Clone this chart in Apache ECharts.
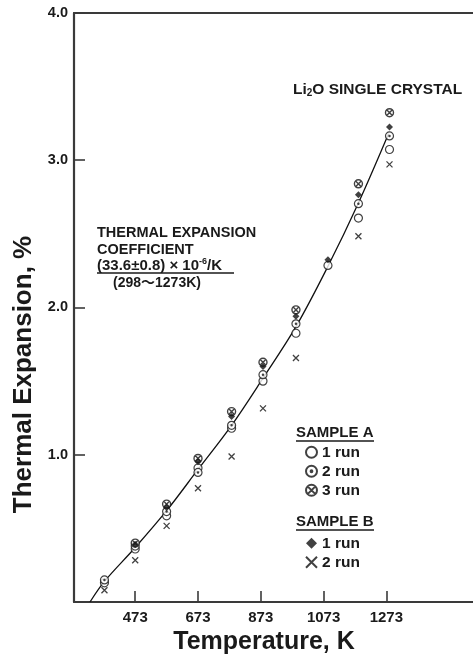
<!DOCTYPE html>
<html>
<head>
<meta charset="utf-8">
<script src="https://cdn.jsdelivr.net/npm/echarts@6/dist/echarts.min.js"></script>
<style>
  html, body { margin: 0; padding: 0; background: #fff; }
  #chart { width: 473px; height: 660px; }
</style>
</head>
<body>
<div id="chart"></div>
<script>
// ---- data ----
const temps = [375, 473, 573, 673, 780, 880, 985, 1087, 1184, 1283];
const sampleA_run1 = [0.13, 0.36, 0.585, 0.91, 1.18, 1.50, 1.825, 2.286, 2.607, 3.073];
const sampleA_run2 = [0.15, 0.38, 0.614, 0.88, 1.20, 1.544, 1.889, null, 2.705, 3.165];
const sampleA_run3 = [null, 0.40, 0.665, 0.975, 1.293, 1.628, 1.984, null, 2.84, 3.323];
const sampleB_run1 = [null, 0.39, 0.642, 0.952, 1.259, 1.599, 1.941, 2.324, 2.765, 3.225];
const sampleB_run2 = [0.08, 0.284, 0.517, 0.773, 0.988, 1.315, 1.657, null, 2.484, 2.972];

const fitTemps  = [329, 375, 473, 573, 673, 780, 880, 985, 1087, 1184, 1280];
const fitValues = [0, 0.14, 0.37, 0.62, 0.90, 1.20, 1.52, 1.87, 2.28, 2.71, 3.18];

const xTickLabels = [473, 673, 873, 1073, 1273];
const yTickLabels = [1, 2, 3, 4];

// ---- build ----
const FONT = "'Liberation Sans', Arial, 'Noto Sans CJK JP', sans-serif";
const INK = '#1a1a1a';
const AXIS = '#3a3a3a';

function pairs(xs, ys) {
  const out = [];
  xs.forEach((x, i) => { if (ys[i] !== null && ys[i] !== undefined) out.push([x, ys[i]]); });
  return out;
}

const SYM_CIRCLE_DOT = 'path://M0,-10A10,10,0,1,1,0,10A10,10,0,1,1,0,-10ZM0,-1.6A1.6,1.6,0,1,1,0,1.6A1.6,1.6,0,1,1,0,-1.6Z';
const SYM_CIRCLE_X = 'path://M0,-10A10,10,0,1,1,0,10A10,10,0,1,1,0,-10ZM-7.07,-7.07L7.07,7.07M7.07,-7.07L-7.07,7.07';
const SYM_CROSS = 'path://M-5,-5L5,5M5,-5L-5,5';

const openStyle = { color: '#fff', borderColor: '#111', borderWidth: 1.2 };

const chart = echarts.init(document.getElementById('chart'), null, { renderer: 'canvas' });

const legendCommon = {
  orient: 'vertical', left: 305, padding: 0,
  itemWidth: 11, itemHeight: 11, itemGap: 3.5,
  formatter: n => n.slice(2),
  textStyle: { fontFamily: FONT, fontSize: 15.5, fontWeight: 'bold', color: INK },
  selectedMode: false
};

const option = {
  backgroundColor: '#fff',
  animation: false,
  textStyle: { fontFamily: FONT },
  grid: { left: 74, right: 0, top: 13, bottom: 58, containLabel: false },
  xAxis: [{
    type: 'value',
    min: 278, max: 1549,
    name: 'Temperature, K',
    nameLocation: 'middle',
    nameGap: 28,
    nameTextStyle: { fontFamily: FONT, fontSize: 25, fontWeight: 'bold', color: INK, padding: [0, 19, 0, 0] },
    axisLine: { show: true, lineStyle: { color: AXIS, width: 2.2 } },
    axisTick: { show: true, inside: true, length: 11, lineStyle: { color: AXIS, width: 1.6 }, customValues: xTickLabels },
    axisLabel: { show: true, customValues: xTickLabels, fontFamily: FONT, fontSize: 15, fontWeight: 'bold', color: INK, margin: 8,
                 formatter: v => String(v) },
    splitLine: { show: false }
  }, {
    type: 'value', position: 'top', min: 278, max: 1549,
    axisLine: { show: true, lineStyle: { color: AXIS, width: 2.2 } },
    axisTick: { show: false }, axisLabel: { show: false }, splitLine: { show: false }
  }],
  yAxis: {
    type: 'value',
    min: 0, max: 4,
    name: 'Thermal Expansion, %',
    nameLocation: 'middle',
    nameGap: 32,
    nameTextStyle: { fontFamily: FONT, fontSize: 26, fontWeight: 'bold', color: INK, padding: [0, 134, 0, 0] },
    axisLine: { show: true, lineStyle: { color: AXIS, width: 2.2 } },
    axisTick: { show: true, inside: true, length: 11, lineStyle: { color: AXIS, width: 1.6 }, customValues: yTickLabels },
    axisLabel: { show: true, customValues: yTickLabels, fontFamily: FONT, fontSize: 14.5, fontWeight: 'bold', color: INK, margin: 6,
                 formatter: v => v.toFixed(1) },
    splitLine: { show: false }
  },
  legend: [
    Object.assign({}, legendCommon, { data: ['A 1 run', 'A 2 run', 'A 3 run'], top: 444.5 }),
    Object.assign({}, legendCommon, { data: ['B 1 run', 'B 2 run'], top: 535.5 })
  ],
  graphic: [
    { type: 'text', x: 293, y: 90, style: {
        text: '{a|Li}{s|2}{a|O SINGLE CRYSTAL}', verticalAlign: 'middle', fill: INK,
        rich: { a: { fontFamily: FONT, fontSize: 15.5, fontWeight: 'bold', fill: INK },
                s: { fontFamily: FONT, fontSize: 10, fontWeight: 'bold', fill: INK, padding: [6, 0, 0, 0] } } } },
    { type: 'text', x: 97, y: 233, style: { text: 'THERMAL EXPANSION', font: "bold 14.5px " + FONT, fill: INK, verticalAlign: 'middle' } },
    { type: 'text', x: 97, y: 250, style: { text: 'COEFFICIENT', font: "bold 14.5px " + FONT, fill: INK, verticalAlign: 'middle' } },
    { type: 'text', x: 97, y: 266, style: {
        text: '{a|(33.6±0.8) × 10}{s|-6}{a|/K}', verticalAlign: 'middle', fill: INK,
        rich: { a: { fontFamily: FONT, fontSize: 15, fontWeight: 'bold', fill: INK },
                s: { fontFamily: FONT, fontSize: 9, fontWeight: 'bold', fill: INK, padding: [0, 0, 8, 0] } } } },
    { type: 'line', shape: { x1: 97, y1: 273, x2: 234, y2: 273 }, style: { stroke: INK, lineWidth: 1.3 } },
    { type: 'text', x: 113, y: 283, style: { text: '(298～1273K)', font: "bold 14px " + FONT, fill: INK, verticalAlign: 'middle' } },
    { type: 'text', x: 296, y: 433, style: { text: 'SAMPLE A', font: "bold 15px " + FONT, fill: INK, verticalAlign: 'middle' } },
    { type: 'line', shape: { x1: 296, y1: 441, x2: 374, y2: 441 }, style: { stroke: INK, lineWidth: 1.3 } },
    { type: 'text', x: 296, y: 522, style: { text: 'SAMPLE B', font: "bold 15px " + FONT, fill: INK, verticalAlign: 'middle' } },
    { type: 'line', shape: { x1: 296, y1: 530, x2: 374, y2: 530 }, style: { stroke: INK, lineWidth: 1.3 } }
  ],
  series: [
    { name: 'fit', type: 'line', data: pairs(fitTemps, fitValues), smooth: 0.35, showSymbol: false,
      lineStyle: { color: '#111', width: 1.3 }, z: 1, silent: true },
    { name: 'B 2 run', type: 'scatter', data: pairs(temps, sampleB_run2), symbol: SYM_CROSS, symbolSize: 6,
      itemStyle: { color: '#fff', borderColor: '#111', borderWidth: 1.3 }, z: 3 },
    { name: 'A 1 run', type: 'scatter', data: pairs(temps, sampleA_run1), symbol: 'circle', symbolSize: 8,
      itemStyle: openStyle, z: 3 },
    { name: 'A 2 run', type: 'scatter', data: pairs(temps, sampleA_run2), symbol: SYM_CIRCLE_DOT, symbolSize: 8,
      itemStyle: openStyle, z: 3 },
    { name: 'A 3 run', type: 'scatter', data: pairs(temps, sampleA_run3), symbol: SYM_CIRCLE_X, symbolSize: 8,
      itemStyle: { color: '#fff', borderColor: '#111', borderWidth: 1.4 }, z: 3 },
    { name: 'B 1 run', type: 'scatter', data: pairs(temps, sampleB_run1), symbol: 'diamond', symbolSize: 7,
      itemStyle: { color: '#111' }, z: 4 }
  ]
};
chart.setOption(option);
</script>
</body>
</html>
